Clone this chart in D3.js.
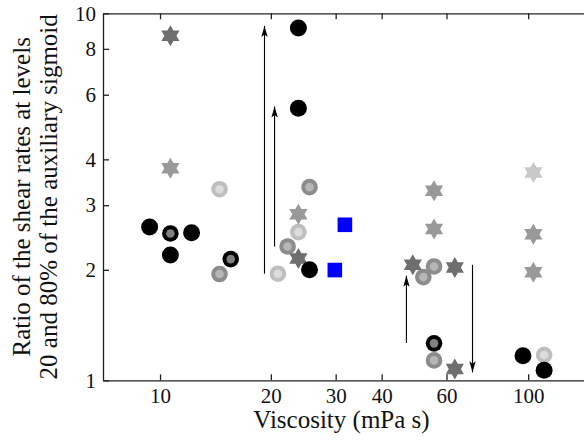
<!DOCTYPE html>
<html>
<head>
<meta charset="utf-8">
<script src="https://cdn.jsdelivr.net/npm/d3@7"></script>
<style>
  body { margin: 0; background: #fff; }
  svg text { font-family: "Liberation Serif", "Times New Roman", serif; fill: #111; }
  .axis path, .axis line { stroke: #222; stroke-width: 1.3; }
</style>
</head>
<body>
<div id="chart"></div>
<script>
// Tick values
var xTicks = [10, 20, 30, 40, 60, 100];
var yTicks = [1, 2, 3, 4, 6, 8, 10];

// Series (viscosity in mPa s, ratio)
var blackX = [23.76, 23.76, 9.37, 10.67, 12.18, 25.47, 96.8, 110.5];
var blackY = [9.12, 5.51, 2.615, 2.194, 2.523, 2.001, 1.167, 1.065];

var blackRingX = [10.67, 15.56, 55.5];
var blackRingY = [2.512, 2.139, 1.261];

var grayRingX = [14.51, 25.47, 22.21, 51.9, 55.5, 55.5];
var grayRingY = [1.948, 3.36, 2.316, 1.911, 2.043, 1.133];

var lightRingX = [14.51, 20.9, 23.76, 110.5];
var lightRingY = [3.317, 1.952, 2.534, 1.172];

var darkStarX = [10.67, 23.76, 48.6, 63.2, 63.2];
var darkStarY = [8.68, 2.148, 2.065, 2.03, 1.073];

var midStarX = [10.67, 23.76, 55.5, 55.5, 103.3, 103.3];
var midStarY = [3.784, 2.836, 3.283, 2.583, 2.502, 1.971];

var lightStarX = [103.3];
var lightStarY = [3.685];

var blueX = [31.78, 29.84];
var blueY = [2.653, 1.997];

// Arrows: x, start y, end y
var arrowX = [19.22, 20.47, 46.7, 70.6];
var arrowFrom = [1.952, 2.316, 1.264, 2.064];
var arrowTo = [9.24, 5.57, 1.927, 1.051];

function zip(xs, ys) { return xs.map(function(x, i) { return {x: x, y: ys[i]}; }); }

var svgWidth = 584;
var svgHeight = 442;
var serif = "'Liberation Serif', 'Times New Roman', serif";

var margin = {top: 13.3, left: 103, bottom: 380.3};
var plotRight = 593;

var svg = d3.select("#chart")
  .append("svg")
  .attr("width", svgWidth)
  .attr("height", svgHeight);

var x = d3.scaleLog().domain([7, 150]).range([margin.left, plotRight]);
var y = d3.scaleLog().domain([1, 10]).range([margin.bottom, margin.top]);

// arrow head
svg.append("defs").append("marker")
  .attr("id", "head")
  .attr("markerUnits", "userSpaceOnUse")
  .attr("viewBox", "0 -4 12 8")
  .attr("refX", 11)
  .attr("refY", 0)
  .attr("markerWidth", 12)
  .attr("markerHeight", 8)
  .attr("orient", "auto")
  .append("path")
  .attr("d", "M0,-3.2L11,0L0,3.2L2.5,0Z")
  .attr("fill", "#000");

// axes
var bottomAxis = d3.axisBottom(x).tickValues(xTicks).tickFormat(d3.format("d"))
  .tickSizeInner(-6).tickSizeOuter(0).tickPadding(8);
var topAxis = d3.axisTop(x).tickValues(xTicks).tickFormat("")
  .tickSizeInner(-6).tickSizeOuter(0);
var leftAxis = d3.axisLeft(y).tickValues(yTicks).tickFormat(d3.format("d"))
  .tickSizeInner(-6).tickSizeOuter(0).tickPadding(7);

svg.append("g").attr("class", "axis")
  .attr("transform", "translate(0," + margin.bottom + ")")
  .call(bottomAxis)
  .attr("font-family", serif).attr("font-size", 21);

svg.append("g").attr("class", "axis")
  .attr("transform", "translate(0," + margin.top + ")")
  .call(topAxis);

svg.append("g").attr("class", "axis")
  .attr("transform", "translate(" + margin.left + ",0)")
  .call(leftAxis)
  .attr("font-family", serif).attr("font-size", 21);

svg.selectAll(".axis text").style("font-family", serif).style("font-size", "21px");

var plot = svg.append("g");

// rings
function rings(data, outer, inner) {
  var g = plot.append("g");
  g.selectAll("circle.o").data(data).enter().append("circle")
    .attr("cx", d => x(d.x)).attr("cy", d => y(d.y))
    .attr("r", 8.3).attr("fill", outer);
  g.selectAll("circle.i").data(data).enter().append("circle")
    .attr("cx", d => x(d.x)).attr("cy", d => y(d.y))
    .attr("r", 4.3).attr("fill", inner);
}

var starPath = (function() {
  var R = 10.5, r = R / Math.sqrt(3), pts = [];
  for (var k = 0; k < 12; k++) {
    var a = -Math.PI / 2 + k * Math.PI / 6;
    var rad = k % 2 === 0 ? R : r;
    pts.push([rad * Math.cos(a), rad * Math.sin(a)]);
  }
  return "M" + pts.map(p => p[0].toFixed(2) + "," + p[1].toFixed(2)).join("L") + "Z";
})();

function stars(data, color) {
  plot.append("g").selectAll("path").data(data).enter().append("path")
    .attr("d", starPath)
    .attr("transform", d => "translate(" + x(d.x) + "," + y(d.y) + ")")
    .attr("fill", color);
}

rings(zip(lightRingX, lightRingY), "#bebebe", "#dcdcdc");
rings(zip(grayRingX, grayRingY), "#8c8c8c", "#b6b6b6");
stars(zip(lightStarX, lightStarY), "#c8c8c8");
stars(zip(midStarX, midStarY), "#999999");
stars(zip(darkStarX, darkStarY), "#6e6e6e");
rings(zip(blackRingX, blackRingY), "#000", "#808080");

plot.append("g").selectAll("circle").data(zip(blackX, blackY)).enter().append("circle")
  .attr("cx", d => x(d.x)).attr("cy", d => y(d.y))
  .attr("r", 8.5).attr("fill", "#000");

plot.append("g").selectAll("rect").data(zip(blueX, blueY)).enter().append("rect")
  .attr("x", d => x(d.x) - 7.3).attr("y", d => y(d.y) - 7.3)
  .attr("width", 14.6).attr("height", 14.6)
  .attr("fill", "#0000ff");

// arrows
plot.append("g").selectAll("line").data(arrowX).enter().append("line")
  .attr("x1", d => x(d)).attr("x2", d => x(d))
  .attr("y1", (d, i) => y(arrowFrom[i]))
  .attr("y2", (d, i) => y(arrowTo[i]))
  .attr("stroke", "#000").attr("stroke-width", 1.1)
  .attr("marker-end", "url(#head)");

// axis titles
svg.append("text")
  .attr("x", 341.5).attr("y", 428)
  .attr("text-anchor", "middle")
  .style("font-size", "25px")
  .text("Viscosity (mPa s)");

var yMid = (margin.top + margin.bottom) / 2;
svg.append("text")
  .attr("transform", "translate(30," + yMid + ") rotate(-90)")
  .attr("text-anchor", "middle")
  .style("font-size", "25px")
  .text("Ratio of the shear rates at levels");
svg.append("text")
  .attr("transform", "translate(57," + yMid + ") rotate(-90)")
  .attr("text-anchor", "middle")
  .style("font-size", "25px")
  .text("20 and 80% of the auxiliary sigmoid");
</script>
</body>
</html>
